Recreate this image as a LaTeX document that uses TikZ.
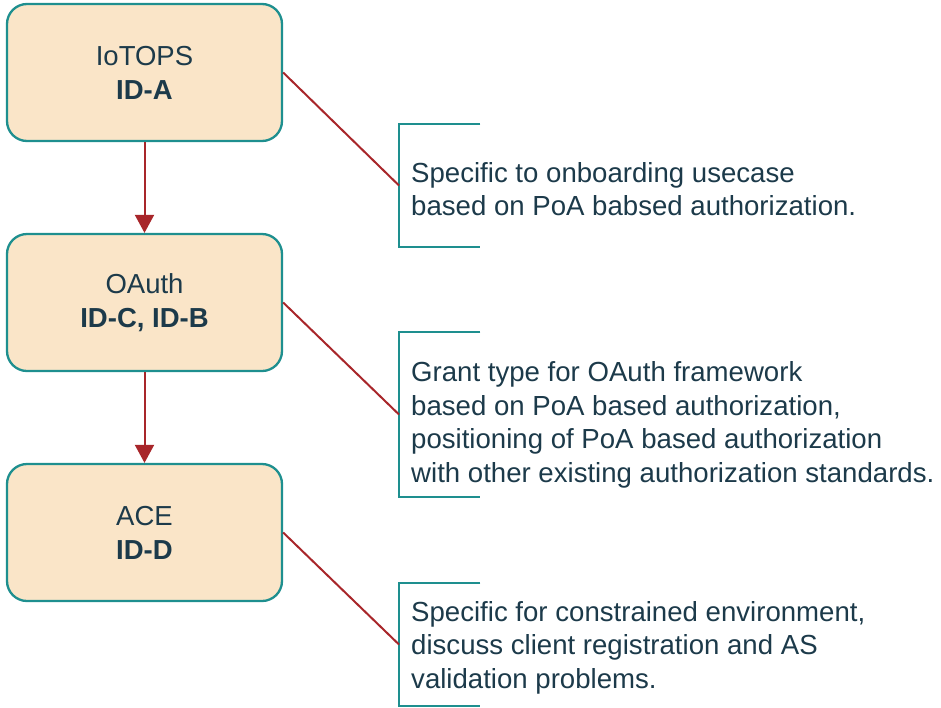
\documentclass[tikz,border=0pt]{standalone}
\usepackage{fontspec}
\setmainfont{Liberation Sans}
\usetikzlibrary{arrows.meta}
\definecolor{boxfill}{HTML}{FAE5C8}
\definecolor{teal1}{HTML}{1E8F8F}
\definecolor{txt}{HTML}{1C3A4A}
\definecolor{arr}{HTML}{A8262A}
\tikzset{
  idbox/.style={draw=teal1, fill=boxfill, line width=2.3pt, rounded corners=20pt,
    minimum width=275pt, minimum height=137pt, align=center, text=txt,
    font=\fontsize{27.5}{34}\selectfont, inner sep=0pt},
  brk/.style={minimum width=81pt, inner sep=0pt, anchor=west},
  brkline/.style={draw=teal1, line width=2.3pt},
  note/.style={anchor=west, align=left, text=txt, font=\fontsize{27.6}{33.5}\selectfont, inner sep=0pt},
  link/.style={draw=arr, line width=2pt},
  flow/.style={draw=arr, line width=2pt, -{Triangle[width=19pt,length=18pt]}}
}
\begin{document}
\begin{tikzpicture}[x=1pt,y=-1pt]
\useasboundingbox (0,0) rectangle (941,707);
\node[idbox] (a) at (144.5,72.5) {IoTOPS\\\textbf{ID-A}};
\node[idbox] (b) at (144.5,302.5) {OAuth\\\textbf{ID-C, ID-B}};
\node[idbox] (c) at (144.5,532.5) {ACE\\\textbf{ID-D}};
\draw[flow] (a) -- (b);
\draw[flow] (b) -- (c);
\node[brk, minimum height=123pt] (b1) at (399,185.5) {};
\node[brk, minimum height=165pt] (b2) at (399,414.5) {};
\node[brk, minimum height=123pt] (b3) at (399,644.5) {};
\foreach \n in {b1,b2,b3}
  \draw[brkline] (\n.north east) -- (\n.north west) -- (\n.south west) -- (\n.south east);
\node[note] (t1) at (411,189) {Specific to onboarding usecase\\based on PoA babsed authorization.};
\node[note] (t2) at (411,425) {Grant type for OAuth framework\\based on PoA based authorization,\\positioning of PoA based authorization\\with other existing authorization standards.};
\node[note] (t3) at (411,647.5) {Specific for constrained environment,\\discuss client registration and AS\\validation problems.};
\draw[link] (a.east) -- (b1.west);
\draw[link] (b.east) -- (b2.west);
\draw[link] (c.east) -- (b3.west);
\end{tikzpicture}
\end{document}
